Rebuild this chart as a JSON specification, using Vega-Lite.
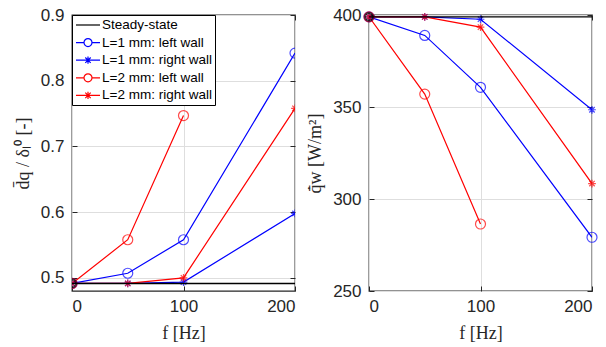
{
  "$schema": "https://vega.github.io/schema/vega-lite/v6.json",
  "background": "white",
  "padding": {"left": 13, "top": 5, "right": 5, "bottom": 5},
  "spacing": 74,
  "bounds": "flush",
  "config": {
    "view": {"stroke": "#262626", "strokeWidth": 1.3},
    "axis": {
      "labelFont": "Liberation Sans", "labelFontSize": 17, "labelColor": "#262626",
      "titleFont": "Liberation Serif", "titleFontSize": 18, "titleFontWeight": "normal", "titleColor": "#262626",
      "domain": false, "tickColor": "#262626", "tickSize": -5, "tickWidth": 1,
      "grid": true, "gridColor": "#dedede", "gridWidth": 1
    },
    "legend": {"labelFont": "Liberation Sans", "labelFontSize": 13.5, "labelColor": "black"}
  },
  "datasets": {
    "dq": [
      {"series": "L=1 mm: left wall", "f": 0, "v": 0.4915},
      {"series": "L=1 mm: left wall", "f": 50, "v": 0.507},
      {"series": "L=1 mm: left wall", "f": 100, "v": 0.558},
      {"series": "L=1 mm: left wall", "f": 200, "v": 0.842},
      {"series": "L=1 mm: right wall", "f": 0, "v": 0.4915},
      {"series": "L=1 mm: right wall", "f": 50, "v": 0.4915},
      {"series": "L=1 mm: right wall", "f": 100, "v": 0.4935},
      {"series": "L=1 mm: right wall", "f": 200, "v": 0.598},
      {"series": "L=2 mm: left wall", "f": 0, "v": 0.4915},
      {"series": "L=2 mm: left wall", "f": 50, "v": 0.558},
      {"series": "L=2 mm: left wall", "f": 100, "v": 0.747},
      {"series": "L=2 mm: right wall", "f": 0, "v": 0.4915},
      {"series": "L=2 mm: right wall", "f": 50, "v": 0.4915},
      {"series": "L=2 mm: right wall", "f": 100, "v": 0.5},
      {"series": "L=2 mm: right wall", "f": 200, "v": 0.758}
    ],
    "dqSteady": [{"series": "Steady-state", "f": 0, "v": 0.4915}],
    "qw": [
      {"series": "L=1 mm: left wall", "f": 0, "v": 399},
      {"series": "L=1 mm: left wall", "f": 50, "v": 388.9},
      {"series": "L=1 mm: left wall", "f": 100, "v": 360.7},
      {"series": "L=1 mm: left wall", "f": 200, "v": 279.2},
      {"series": "L=1 mm: right wall", "f": 0, "v": 399},
      {"series": "L=1 mm: right wall", "f": 50, "v": 399},
      {"series": "L=1 mm: right wall", "f": 100, "v": 397.7},
      {"series": "L=1 mm: right wall", "f": 200, "v": 348.5},
      {"series": "L=2 mm: left wall", "f": 0, "v": 399},
      {"series": "L=2 mm: left wall", "f": 50, "v": 357.0},
      {"series": "L=2 mm: left wall", "f": 100, "v": 286.4},
      {"series": "L=2 mm: right wall", "f": 0, "v": 399},
      {"series": "L=2 mm: right wall", "f": 50, "v": 399},
      {"series": "L=2 mm: right wall", "f": 100, "v": 393.4},
      {"series": "L=2 mm: right wall", "f": 200, "v": 308.4}
    ],
    "qwSteady": [{"series": "Steady-state", "f": 0, "v": 399}]
  },
  "hconcat": [
    {
      "width": 223, "height": 276,
      "resolve": {"axis": {"x": "independent", "y": "independent"}},
      "layer": [
        {
          "data": {"name": "dq"},
          "mark": {"type": "line", "strokeWidth": 1.2, "clip": true},
          "encoding": {
            "x": {"field": "f", "type": "quantitative", "scale": {"domain": [0, 200], "nice": false}, "axis": {"values": [0, 100, 200], "title": "f  [Hz]", "labelPadding": 12, "titlePadding": 10}},
            "y": {"field": "v", "type": "quantitative", "scale": {"domain": [0.48, 0.9], "nice": false, "zero": false}, "axis": {"values": [0.5, 0.6, 0.7, 0.8, 0.9], "format": ".1f", "title": "d̄q / δₗ⁰  [-]", "labelPadding": 13, "titlePadding": 8}},
            "color": {
              "field": "series", "type": "nominal",
              "scale": {"domain": ["Steady-state", "L=1 mm: left wall", "L=1 mm: right wall", "L=2 mm: left wall", "L=2 mm: right wall"], "range": ["black", "#0000ff", "#0000ff", "#ff0000", "#ff0000"]},
              "legend": {
                "title": null, "orient": "top-left", "offset": 0, "padding": 3,
                "strokeColor": "black", "fillColor": "white", "cornerRadius": 0,
                "symbolSize": 144, "symbolStrokeWidth": 1.2, "symbolFillColor": "transparent",
                "symbolOffset": 6, "rowPadding": 3.6, "labelOffset": 7,
                "encode": {"symbols": {"update": {
                  "shape": {"signal": "datum.value === 'Steady-state' ? 'M-2,0H2' : (indexof(datum.value, 'left') >= 0 ? 'M-2,0H-0.667M0.667,0H2M0.667,0A0.667,0.667,0,1,1,-0.667,0A0.667,0.667,0,1,1,0.667,0' : 'M-2,0H2M0,-0.6V0.6M-0.45,-0.45L0.45,0.45M-0.45,0.45L0.45,-0.45')"},
                  "fill": {"value": "transparent"},
                  "strokeWidth": {"value": 1.2}
                }}}
              }
            }
          }
        },
        {
          "data": {"name": "dq"},
          "mark": {"type": "point", "filled": false, "strokeWidth": 1.2, "clip": true},
          "encoding": {
            "x": {"field": "f", "type": "quantitative", "axis": {"orient": "top", "values": [0, 100, 200], "labels": false, "grid": false, "title": null}},
            "y": {"field": "v", "type": "quantitative", "axis": null},
            "color": {"field": "series", "type": "nominal", "legend": null},
            "shape": {"field": "series", "type": "nominal", "legend": null,
              "scale": {"domain": ["L=1 mm: left wall", "L=1 mm: right wall", "L=2 mm: left wall", "L=2 mm: right wall"],
                "range": ["circle", "M-1,0H1M0,-1V1M-0.7,-0.7L0.7,0.7M-0.7,0.7L0.7,-0.7", "circle", "M-1,0H1M0,-1V1M-0.7,-0.7L0.7,0.7M-0.7,0.7L0.7,-0.7"]}},
            "size": {"condition": {"test": "indexof(datum.series, 'left') >= 0", "value": 100}, "value": 60}
          }
        },
        {
          "data": {"name": "dqSteady"},
          "mark": {"type": "rule", "strokeWidth": 1.4},
          "encoding": {
            "y": {"field": "v", "type": "quantitative", "axis": {"orient": "right", "values": [0.5, 0.6, 0.7, 0.8, 0.9], "labels": false, "grid": false, "title": null}},
            "color": {"field": "series", "type": "nominal", "legend": null}
          }
        },
        {
          "data": {"name": "dqSteady"},
          "mark": {"type": "point", "shape": "circle", "filled": false, "strokeWidth": 2, "size": 60, "clip": true},
          "encoding": {
            "x": {"field": "f", "type": "quantitative", "axis": null},
            "y": {"field": "v", "type": "quantitative", "axis": null},
            "color": {"field": "series", "type": "nominal", "legend": null}
          }
        }
      ]
    },
    {
      "width": 223, "height": 276,
      "resolve": {"axis": {"x": "independent", "y": "independent"}},
      "layer": [
        {
          "data": {"name": "qw"},
          "mark": {"type": "line", "strokeWidth": 1.2, "clip": true},
          "encoding": {
            "x": {"field": "f", "type": "quantitative", "scale": {"domain": [0, 200], "nice": false}, "axis": {"values": [0, 100, 200], "title": "f  [Hz]", "labelPadding": 12, "titlePadding": 10}},
            "y": {"field": "v", "type": "quantitative", "scale": {"domain": [250, 400], "nice": false, "zero": false}, "axis": {"values": [250, 300, 350, 400], "title": "q̇̄w  [W/m²]", "labelPadding": 13, "titlePadding": 8}},
            "color": {
              "field": "series", "type": "nominal",
              "scale": {"domain": ["Steady-state", "L=1 mm: left wall", "L=1 mm: right wall", "L=2 mm: left wall", "L=2 mm: right wall"], "range": ["black", "#0000ff", "#0000ff", "#ff0000", "#ff0000"]},
              "legend": null
            }
          }
        },
        {
          "data": {"name": "qw"},
          "mark": {"type": "point", "filled": false, "strokeWidth": 1.2, "clip": false},
          "encoding": {
            "x": {"field": "f", "type": "quantitative", "axis": {"orient": "top", "values": [0, 100, 200], "labels": false, "grid": false, "title": null}},
            "y": {"field": "v", "type": "quantitative", "axis": null},
            "color": {"field": "series", "type": "nominal", "legend": null},
            "shape": {"field": "series", "type": "nominal", "legend": null,
              "scale": {"domain": ["L=1 mm: left wall", "L=1 mm: right wall", "L=2 mm: left wall", "L=2 mm: right wall"],
                "range": ["circle", "M-1,0H1M0,-1V1M-0.7,-0.7L0.7,0.7M-0.7,0.7L0.7,-0.7", "circle", "M-1,0H1M0,-1V1M-0.7,-0.7L0.7,0.7M-0.7,0.7L0.7,-0.7"]}},
            "size": {"condition": {"test": "indexof(datum.series, 'left') >= 0", "value": 100}, "value": 60}
          }
        },
        {
          "data": {"name": "qwSteady"},
          "mark": {"type": "rule", "strokeWidth": 1.4},
          "encoding": {
            "y": {"field": "v", "type": "quantitative", "axis": {"orient": "right", "values": [250, 300, 350, 400], "labels": false, "grid": false, "title": null}},
            "color": {"field": "series", "type": "nominal", "legend": null}
          }
        },
        {
          "data": {"name": "qwSteady"},
          "mark": {"type": "point", "shape": "circle", "filled": false, "strokeWidth": 2, "size": 60},
          "encoding": {
            "x": {"field": "f", "type": "quantitative", "axis": null},
            "y": {"field": "v", "type": "quantitative", "axis": null},
            "color": {"field": "series", "type": "nominal", "legend": null}
          }
        }
      ]
    }
  ],
  "resolve": {"scale": {"color": "independent", "shape": "independent", "y": "independent"}}
}
